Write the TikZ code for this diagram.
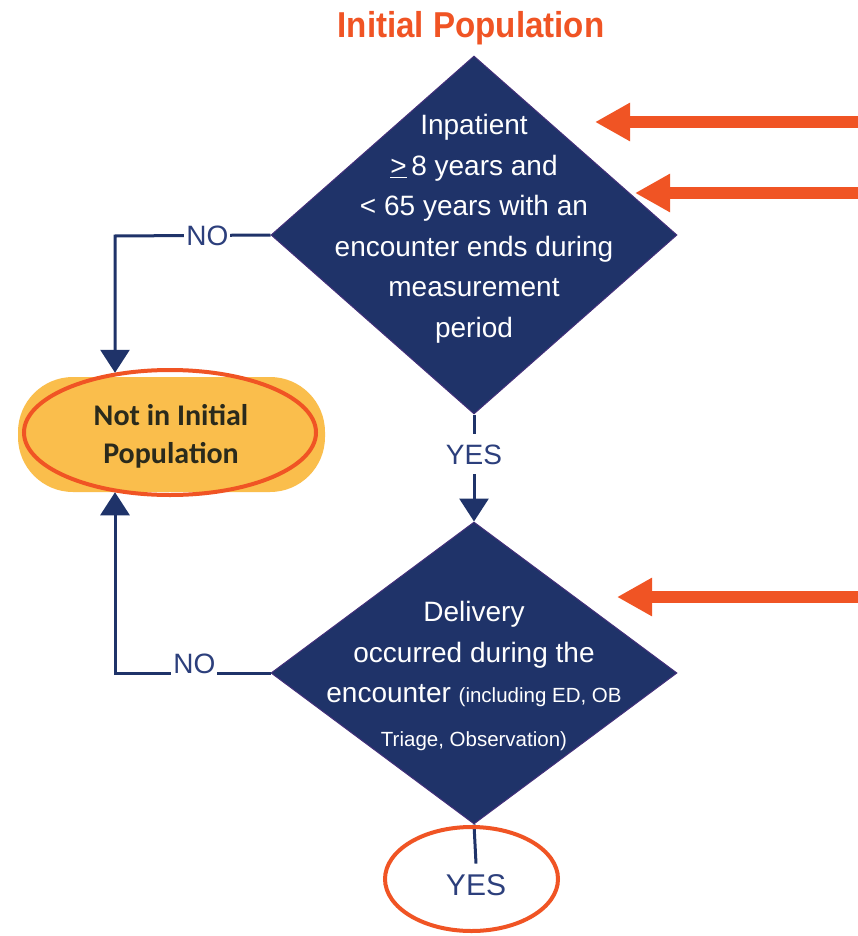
\documentclass[tikz,border=0pt]{standalone}
\usepackage{fontspec}
\setmainfont{Liberation Sans}
\newfontfamily\titlefont[FakeStretch=0.92]{Liberation Sans}
\newfontfamily\boxfont{Carlito}
\usetikzlibrary{shapes.geometric,arrows.meta}
\definecolor{navy}{HTML}{1F3369}
\definecolor{rim}{HTML}{43307A}
\definecolor{flag}{HTML}{F05424}
\definecolor{amber}{HTML}{FABE4C}
\definecolor{labelblue}{HTML}{2C3F7C}
\definecolor{darktext}{HTML}{2A2A1C}

\begin{document}
\begin{tikzpicture}[x=1pt,y=-1pt,
  decision/.style={diamond, draw=rim, line width=1pt, fill=navy, inner sep=0pt, minimum width=406pt},
  dtext/.style={text=white, align=center, font=\fontsize{28}{40.5}\selectfont},
  flow/.style={draw=navy, line width=3pt},
  flowarrow/.style={flow, -{Triangle[width=29pt,length=23pt]}},
  lbl/.style={text=labelblue, font=\fontsize{28}{30}\selectfont, fill=white,
              text height=20pt, text depth=0pt, inner xsep=2pt, inner ysep=10pt},
  ring/.style={ellipse, draw=flag, line width=4pt, inner sep=0pt},
  pointer/.style={draw=flag, line width=12pt, -{Triangle[width=36pt,length=35pt]}}
]
\useasboundingbox[fill=white] (0,0) rectangle (858,936);

% title
\node[text=flag, anchor=base, font=\titlefont\bfseries\fontsize{36}{40}\selectfont]
  (title) at (471,38) {Initial Population};

% decisions
\node[decision, minimum height=358pt] (d1) at (474,235) {};
\node[dtext] (t1) at (474,229)
  {Inpatient\\ \underline{>}\,8 years and\\ < 65 years with an\\ encounter ends during\\ measurement\\ period};

\node[decision, minimum height=302pt] (d2) at (474,673) {};
\node[dtext] (t2) at (474,676)
  {Delivery\\ occurred during the\\ encounter {\fontsize{20.5}{24}\selectfont (including ED, OB}\\[3pt]
   {\fontsize{20.5}{24}\selectfont Triage, Observation)}};

% exclusion terminal
\node[fill=amber, rounded corners=55pt, minimum width=307pt, minimum height=115pt]
  (pill) at (171.5,434.5) {};
\node[font=\boxfont\bfseries\fontsize{30}{38}\selectfont, text=darktext, align=center]
  (notin) at (171,436.5) {Not in Initial\\Population};
\node[ring, minimum width=292pt, minimum height=125pt] (ring) at (170,432.5) {};

% connectors
\coordinate (k1) at (115,236);
\coordinate (k2) at (115,673);
\draw[flowarrow] (d1.west) -- node[lbl, pos=0.406] (no1) {NO} (k1) -- (k1 |- ring.133);
\draw[flowarrow] (d2.west) -- node[lbl, anchor=base, pos=0.49] (no2) {NO} (k2) -- (k2 |- ring.227);
\draw[flowarrow] (d1.south) -- node[lbl, pos=0.37] (yes1) {YES} (d2.north);

\node[lbl, fill=none, font=\fontsize{30}{32}\selectfont, text height=21.5pt] (yes2) at (476,884.5) {YES};
\draw[flow] (d2.south) -- (yes2.north);
\node[ring, minimum width=173pt, minimum height=104pt] (yesring) at (471.5,879) {};

% highlight pointers
\coordinate (p1s) at (858,122); \coordinate (p1e) at (595,122);
\coordinate (p2s) at (858,193); \coordinate (p2e) at (635,193);
\coordinate (p3s) at (858,597); \coordinate (p3e) at (617,597);
\draw[pointer] (p1s) -- (p1e);
\draw[pointer] (p2s) -- (p2e);
\draw[pointer] (p3s) -- (p3e);
\end{tikzpicture}
\end{document}
